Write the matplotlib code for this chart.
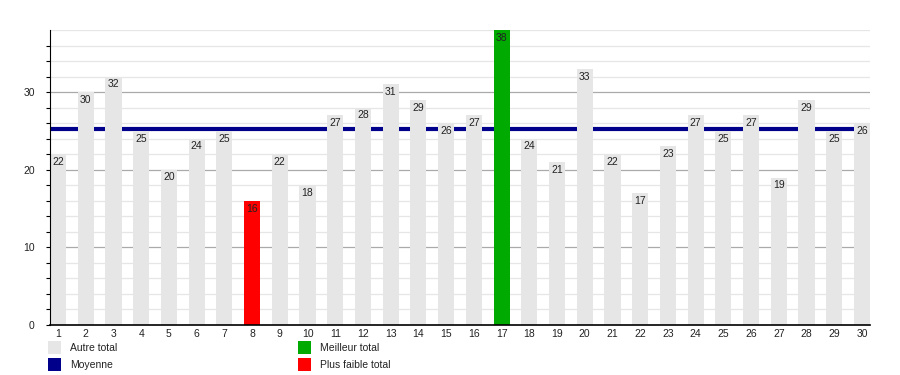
import matplotlib
matplotlib.use("Agg")
import matplotlib.pyplot as plt
from matplotlib.patches import Rectangle
import numpy as np

plt.rcParams['font.family'] = ['Liberation Sans', 'DejaVu Sans']

days = list(range(1, 31))
totals = [22, 30, 32, 25, 20, 24, 25, 16, 22, 18, 27, 28, 31, 29, 26, 27, 38, 24,
          21, 33, 22, 17, 23, 27, 25, 27, 19, 29, 25, 26]
legend_labels = ["Autre total", "Moyenne", "Meilleur total", "Plus faible total"]

c_other = "#e6e6e6"
c_best = "#00aa00"
c_worst = "#ff0000"
c_mean = "#00008b"

W, H = 900, 375
fig = plt.figure(figsize=(9, 3.75), dpi=100)
ax = fig.add_axes([50 / W, 1 - 325 / H, 820 / W, 295 / H])

mean = np.mean(totals)
imax = int(np.argmax(totals))
imin = int(np.argmin(totals))
colors = [c_other] * len(totals)
colors[imax] = c_best
colors[imin] = c_worst

ax.set_xlim(0.71, 30.29)
ax.set_ylim(0, 38)

# grid
for y in np.arange(2, 38, 2):
    if y % 10 == 0:
        ax.axhline(y, color="#aaaaaa", lw=0.9, zorder=0)
    else:
        ax.axhline(y, color="#e6e6e6", lw=0.9, zorder=0)
ax.axhline(38, color="#e6e6e6", lw=0.9, zorder=0)

ax.axhline(mean, color=c_mean, lw=3, zorder=1)
ax.bar(days, totals, width=0.58, color=colors, zorder=2)

for d, v in zip(days, totals):
    ax.text(d, v - 0.35, str(v), ha="center", va="top", fontsize=7.5, color="#222222", zorder=3)

for s in ["top", "right"]:
    ax.spines[s].set_visible(False)
ax.spines["left"].set_color("black")
ax.spines["bottom"].set_color("black")
ax.spines["bottom"].set_linewidth(1.2)

ax.set_yticks([0, 10, 20, 30])
ax.set_yticks(np.arange(0, 38, 2), minor=True)
ax.tick_params(axis="y", which="both", length=3, width=0.8, labelsize=7.5, pad=8, colors="black")
ax.tick_params(axis="y", which="major", labelcolor="#222222")
ax.set_xticks(days)
ax.set_xticklabels([str(d) for d in days])
ax.tick_params(axis="x", length=0, labelsize=7.5, pad=3, labelcolor="#222222")

# legend
def legend_item(x, y, color, label):
    fig.add_artist(Rectangle((x / W, 1 - (y + 13) / H), 13 / W, 13 / H,
                             transform=fig.transFigure, color=color, lw=0))
    fig.text((x + 22) / W, 1 - (y + 7) / H, label, ha="left", va="center",
             fontsize=7.5, color="#222222")

legend_item(48, 341, c_other, legend_labels[0])
legend_item(48, 358, c_mean, legend_labels[1])
legend_item(298, 341, c_best, legend_labels[2])
legend_item(298, 358, c_worst, legend_labels[3])

fig.savefig("out.png", dpi=100, facecolor="white")
